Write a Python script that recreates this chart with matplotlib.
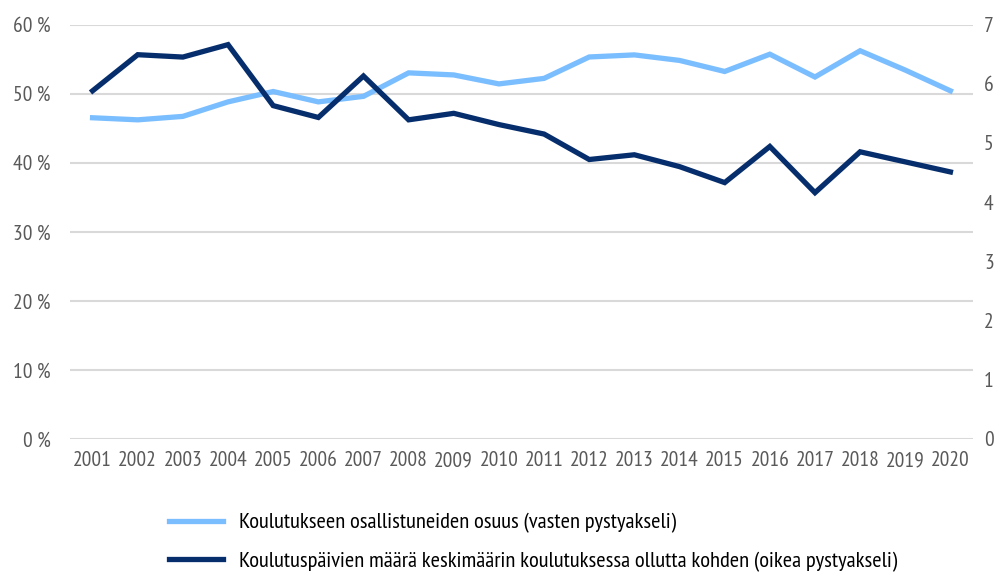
import matplotlib
matplotlib.use("Agg")
import matplotlib.pyplot as plt
import numpy as np

# data
years = list(range(2001, 2021))
osuus = [46.5, 46.2, 46.7, 48.8, 50.3, 48.8, 49.6, 53.0, 52.7, 51.4,
         52.2, 55.3, 55.6, 54.8, 53.2, 55.7, 52.4, 56.2, 53.4, 50.4]
paivat = [5.88, 6.49, 6.45, 6.66, 5.63, 5.43, 6.13, 5.39, 5.50, 5.31,
          5.15, 4.72, 4.80, 4.60, 4.33, 4.94, 4.16, 4.85, 4.68, 4.51]
left_ticks = [0, 10, 20, 30, 40, 50, 60]
right_ticks = [0, 1, 2, 3, 4, 5, 6, 7]
labels = ["Koulutukseen osallistuneiden osuus (vasten pystyakseli)",
          "Koulutuspäivien määrä keskimäärin koulutuksessa ollutta kohden (oikea pystyakseli)"]

light = "#7bbeff"
dark = "#062e6c"
grey = "#595959"

plt.rcParams['font.family'] = ['PT Sans Narrow', 'DejaVu Sans']

fig = plt.figure(figsize=(9.96, 5.75), dpi=100)
ax = fig.add_axes([70 / 996, 1 - 439 / 575, 903 / 996, 414.5 / 575])
ax2 = ax.twinx()

for y in left_ticks:
    ax.axhline(y, color="#d9d9d9", lw=1.5, zorder=0)

l1, = ax.plot(years, osuus, color=light, lw=3.8, solid_joinstyle='miter', zorder=3)
l2, = ax2.plot(years, paivat, color=dark, lw=3.8, solid_joinstyle='miter', zorder=3)

ax.set_xlim(2000.5, 2020.5)
ax.set_ylim(0, 60)
ax2.set_ylim(0, 7)
ax.set_xticks(years)
ax.set_xticklabels([str(y) for y in years])
ax.set_yticks(left_ticks)
ax.set_yticklabels([f"{v} %" for v in left_ticks])
ax2.set_yticks(right_ticks)

for a in (ax, ax2):
    for s in a.spines.values():
        s.set_visible(False)
    a.tick_params(length=0, colors=grey, labelsize=15.5)
ax.tick_params(axis='x', pad=9)
ax.tick_params(axis='y', pad=14)
ax2.tick_params(axis='y', pad=8)

fig.legend([l1, l2], labels, loc='upper left', bbox_to_anchor=(160 / 996, 1 - 504 / 575),
           frameon=False, fontsize=16.2, handlelength=2.4, handletextpad=0.7,
           labelspacing=0.8, borderaxespad=0)

fig.savefig("out.png", dpi=100)
